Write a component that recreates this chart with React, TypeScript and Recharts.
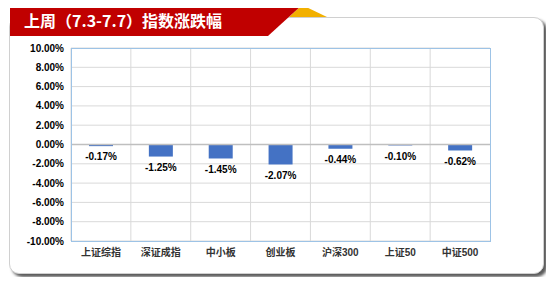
import React from "react";
import {
  BarChart, Bar, XAxis, YAxis, CartesianGrid, ReferenceLine, LabelList,
} from "recharts";

// ── Données ──────────────────────────────────────────────────────────────────

const categories = ["上证综指", "深证成指", "中小板", "创业板", "沪深300", "上证50", "中证500"];
const changes = [-0.17, -1.25, -1.45, -2.07, -0.44, -0.1, -0.62];
const yTicks = [-10, -8, -6, -4, -2, 0, 2, 4, 6, 8, 10];

const data = categories.map((name, i) => ({ name, value: changes[i] }));

const FONT = '"Liberation Sans", "Noto Sans CJK SC", sans-serif';
const pct = (v: number) => `${Number(v).toFixed(2)}%`;

// ── Graphique ────────────────────────────────────────────────────────────────

export default function App() {
  return (
    <div style={{ position: "relative", width: 554, height: 285, margin: -8, background: "#fff", overflow: "hidden", fontFamily: FONT }}>
      {/* carte */}
      <div
        style={{
          position: "absolute", left: 9, top: 17, width: 533, height: 255,
          border: "1px solid #d0d0d0", borderRadius: 10, background: "#fff",
          boxShadow: "3px 3px 3px rgba(0,0,0,0.65)",
        }}
      />
      {/* bandeau titre */}
      <svg width={554} height={40} style={{ position: "absolute", left: 0, top: 0 }}>
        <polygon points="302,5 327,17 289,17" fill="#f2b000" />
        <polygon points="10,5 302,5 268,36 10,36" fill="#c00000" />
        <text x={24} y={27} fill="#fff" fontSize={16} fontWeight="bold" fontFamily='"Noto Sans CJK SC", sans-serif'>
          上周（7.3-7.7）指数涨跌幅
        </text>
      </svg>

      <div style={{ position: "absolute", left: 0, top: 0 }}>
        <BarChart width={554} height={285} data={data} margin={{ top: 48, right: 64, bottom: 14, left: 11 }}>
          <CartesianGrid
            stroke="#d9d9d9"
            verticalCoordinatesGenerator={({ offset }: any) =>
              categories.map((_, i) => offset.left + (i * offset.width) / categories.length)
            }
          />
          <XAxis
            dataKey="name"
            height={30}
            tickLine={false}
            axisLine={false}
            tick={{ fill: "#333", fontSize: 10, fontWeight: "bold", fontFamily: FONT }}
          />
          <YAxis
            width={60}
            domain={[-10, 10]}
            ticks={yTicks}
            interval={0}
            tickFormatter={pct}
            tickLine={false}
            axisLine={false}
            tickSize={0}
            tickMargin={7}
            tick={{ fill: "#000", fontSize: 10, fontWeight: "bold", fontFamily: FONT }}
          />
          <ReferenceLine y={0} stroke="#bfbfbf" strokeWidth={1.5} />
          <Bar dataKey="value" fill="#4472c4" barSize={24} isAnimationActive={false}>
            <LabelList
              dataKey="value"
              position="top"
              offset={7}
              formatter={(v: any) => pct(v)}
              style={{ fill: "#000", fontSize: 10, fontWeight: "bold", fontFamily: FONT }}
            />
          </Bar>
        </BarChart>
      </div>
      {/* bordure zone de tracé */}
      <div
        style={{
          position: "absolute", left: 71, top: 48, width: 418, height: 192,
          border: "1px solid #9dc3e6", pointerEvents: "none",
        }}
      />
    </div>
  );
}
